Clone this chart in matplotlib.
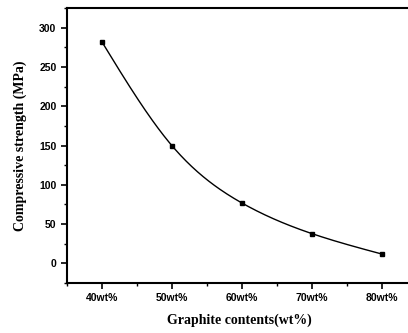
import numpy as np
import matplotlib.pyplot as plt
from matplotlib.ticker import MultipleLocator

graphite = [40, 50, 60, 70, 80]
tick_labels = ['40wt%', '50wt%', '60wt%', '70wt%', '80wt%']
strength = [282, 150, 77, 38, 12]


def spline(x, y, n=200):
    # natural cubic spline, only for drawing the smooth line
    x = np.asarray(x, float)
    y = np.asarray(y, float)
    k = len(x)
    h = np.diff(x)
    A = np.zeros((k, k))
    b = np.zeros(k)
    A[0, 0] = A[-1, -1] = 1
    for i in range(1, k - 1):
        A[i, i - 1] = h[i - 1]
        A[i, i] = 2 * (h[i - 1] + h[i])
        A[i, i + 1] = h[i]
        b[i] = 6 * ((y[i + 1] - y[i]) / h[i] - (y[i] - y[i - 1]) / h[i - 1])
    M = np.linalg.solve(A, b)
    xs = np.linspace(x[0], x[-1], n)
    idx = np.clip(np.searchsorted(x, xs) - 1, 0, k - 2)
    x0, x1 = x[idx], x[idx + 1]
    hh = x1 - x0
    t0 = x1 - xs
    t1 = xs - x0
    ys = (M[idx] * t0**3 + M[idx + 1] * t1**3) / (6 * hh) \
        + (y[idx] / hh - M[idx] * hh / 6) * t0 \
        + (y[idx + 1] / hh - M[idx + 1] * hh / 6) * t1
    return xs, ys


fig = plt.figure(figsize=(4.08, 3.33), dpi=100)
# the scan is cropped at the right, so the box runs off the picture
ax = fig.add_axes([0.164, 0.150, 0.845, 0.826])

xs, ys = spline(graphite, strength)
ax.plot(xs, ys, color='black', lw=1.0)
ax.plot(graphite, strength, 's', color='black', ms=3.5)

ax.set_xlim(35, 84.3)
ax.set_ylim(-25, 325)
ax.set_xticks(graphite)
ax.set_xticklabels(tick_labels)
ax.xaxis.set_minor_locator(MultipleLocator(5))
ax.yaxis.set_minor_locator(MultipleLocator(25))
ax.set_yticks([0, 50, 100, 150, 200, 250, 300])

ax.tick_params(which='major', direction='out', length=4, width=1.2)
ax.tick_params(which='minor', direction='out', length=2.5, width=1.0)
for lab in ax.get_xticklabels() + ax.get_yticklabels():
    lab.set_fontfamily('Liberation Sans')
    lab.set_fontweight('bold')
    lab.set_fontsize(7.5)
for s in ax.spines.values():
    s.set_linewidth(1.5)
ax.spines['right'].set_visible(False)

ax.set_xlabel('Graphite contents(wt%)', family='Liberation Serif',
              fontweight='bold', fontsize=10, labelpad=7)
ax.set_ylabel('Compressive strength (MPa)', family='Liberation Serif',
              fontweight='bold', fontsize=10, labelpad=9)

fig.savefig('out.png', dpi=100)
